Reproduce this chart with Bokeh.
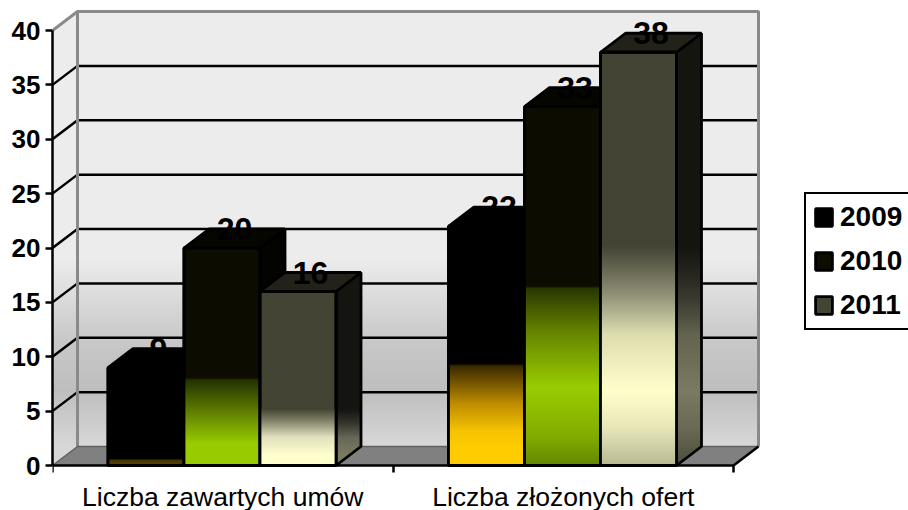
import numpy as np
from bokeh.plotting import figure
from bokeh.embed import file_html
from bokeh.resources import INLINE
from bokeh.models import FixedTicker, Legend, LegendItem, Range1d
from bokeh.core.properties import value

categories = ["Liczba zawartych umów", "Liczba złożonych ofert"]
series_names = ["2009", "2010", "2011"]
values_2009 = [9, 22]
values_2010 = [20, 33]
values_2011 = [16, 38]
series_values = [values_2009, values_2010, values_2011]
y_ticks = [0, 5, 10, 15, 20, 25, 30, 35, 40]

# styling
base_colors = [(0, 0, 0), (12, 12, 0), (68, 68, 52)]
stops = {
    (0, 0): [(0, (92, 70, 0)), (0.55, (70, 52, 0)), (0.6, (0, 0, 0))],
    (0, 1): [(0, (255, 204, 0)), (1.6, (255, 204, 0)), (3.2, (245, 195, 0)), (5.7, (190, 140, 0)), (9.2, (55, 40, 0)), (9.3, (0, 0, 0))],
    (1, 0): [(0, (153, 204, 0)), (2, (153, 204, 0)), (5, (95, 125, 0)), (7.9, (35, 50, 0)), (8.05, (12, 12, 0))],
    (1, 1): [(0, (100, 135, 0)), (2.6, (130, 170, 0)), (7.2, (153, 204, 0)), (12.4, (100, 130, 0)), (16.3, (40, 55, 0)), (16.5, (12, 12, 0))],
    (2, 0): [(0, (255, 255, 204)), (0.9, (255, 255, 204)), (2.6, (225, 225, 190)), (4.1, (130, 130, 105)), (5.2, (68, 68, 52))],
    (2, 1): [(0, (185, 185, 145)), (3.5, (230, 230, 185)), (6.9, (255, 255, 204)), (12.1, (220, 220, 175)), (15.4, (150, 150, 125)), (18.2, (100, 100, 80)), (20.2, (68, 68, 52))],
}
wall_stops = [(0, (215, 215, 215)), (1.84, (215, 215, 215)), (6.9, (190, 190, 190)), (11.5, (200, 200, 200)), (16.1, (222, 222, 222)), (19, (236, 236, 236)), (42, (236, 236, 236))]
floor_color = "#808080"
wall_line = "#8a8a8a"

W, H = 908, 510
ZERO_X, ZERO_Y = 52, 465
PX_X = (733 - 52) / 2
PX_Y = (465 - 30) / 40
DX = 25 / PX_X
DY = 19 / PX_Y
BAR_W = 76 / PX_X
BAR_START = 0.163
X_MAX = 2
Y_MAX = 40
STEP = 1 / PX_Y
FONT = "Liberation Sans"
EDGE = 2.8


def hexc(c):
    return "#%02x%02x%02x" % tuple(int(round(min(255, max(0, k)))) for k in c)


def grad(level, st):
    lv = [s[0] for s in st]
    return [np.interp(level, lv, [s[1][i] for s in st]) for i in range(3)]


def side_shade(c):
    k = 0.25 + 0.25 * (sum(c) / (3 * 255))
    return [x * k for x in c]


p = figure(width=W, height=H, output_backend="svg", toolbar_location=None,
           x_range=Range1d(0, (W - ZERO_X) / PX_X),
           y_range=Range1d(-(H - ZERO_Y) / PX_Y, ZERO_Y / PX_Y),
           min_border_left=ZERO_X, min_border_right=0, min_border_top=0, min_border_bottom=0,
           outline_line_color=None, background_fill_color="white", border_fill_color="white")
p.grid.visible = False


def para_slices(x0, v_top, st, shade=None, n_top=None):
    levels = np.arange(0, v_top + DY, STEP)
    l, r, b, t, c = [], [], [], [], []
    for L in levels:
        m = L + STEP / 2
        xl = x0 if m <= v_top else x0 + DX * (m - v_top) / DY
        xr = x0 + DX if m >= DY else x0 + DX * m / DY
        if n_top is not None and m > n_top:
            continue
        col = grad(m, st)
        if shade:
            col = shade(col)
        l.append(xl); r.append(xr); b.append(L); t.append(min(L + STEP * 2, v_top + DY)); c.append(hexc(col))
    return dict(left=l, right=r, bottom=b, top=t, color=c)


# ---- walls and floor ----
lv = np.arange(DY, Y_MAX + DY, STEP)
p.quad(left=DX, right=X_MAX + DX, bottom=lv, top=np.minimum(lv + STEP * 2, Y_MAX + DY),
       fill_color=[hexc(grad(m + STEP / 2, wall_stops)) for m in lv], line_color=None)
p.quad(line_color=None, fill_color="color", source=para_slices(0, Y_MAX, wall_stops))
p.patch([0, X_MAX, X_MAX + DX, DX], [0, 0, DY, DY], fill_color=floor_color, line_color=None)

for v in y_ticks[1:-1]:
    p.line([0, DX, X_MAX + DX], [v, v + DY, v + DY], line_color="black", line_width=2.5)
p.line([0, DX, X_MAX + DX, X_MAX + DX], [Y_MAX, Y_MAX + DY, Y_MAX + DY, DY], line_color=wall_line, line_width=3)
p.line([DX, DX], [DY, Y_MAX + DY], line_color=wall_line, line_width=3)
p.line([0, DX, X_MAX + DX], [0, DY, DY], line_color="#606060", line_width=1.5)
p.line([X_MAX, X_MAX + DX], [0, DY], line_color="black", line_width=2.5)

# ---- bars ----
legend_items = []
for s, vals in enumerate(series_values):
    base = base_colors[s]
    half = [x * 0.5 for x in base]
    lefts = [i + BAR_START + s * BAR_W for i in range(len(vals))]
    rights = [x + BAR_W for x in lefts]
    for i, v in enumerate(vals):
        xr = rights[i]
        p.patch([xr, xr + DX, xr + DX, xr], [0, DY, v + DY, v], fill_color=hexc(side_shade(base)), line_color=None)
        st = stops[(s, i)]
        p.quad(line_color=None, fill_color="color", source=para_slices(xr, v, st, side_shade, n_top=st[-1][0]))
        p.patch([xr, xr + DX, xr + DX, xr], [0, DY, v + DY, v], fill_color=None, line_color="black", line_width=EDGE)
        xl = lefts[i]
        p.patch([xl, xr, xr + DX, xl + DX], [v, v, v + DY, v + DY], fill_color=hexc(half), line_color="black", line_width=EDGE)
    r = p.quad(left=lefts, right=rights, bottom=[0, 0], top=vals, fill_color=hexc(base),
               line_color="black", line_width=EDGE)
    for i, v in enumerate(vals):
        st = stops[(s, i)]
        L = np.arange(0, st[-1][0], STEP)
        p.quad(left=lefts[i], right=rights[i], bottom=L, top=np.minimum(L + STEP * 2, st[-1][0]),
               fill_color=[hexc(grad(m + STEP / 2, st)) for m in L], line_color=None)
    p.quad(left=lefts, right=rights, bottom=[0, 0], top=vals, fill_color=None, line_color="black", line_width=EDGE)
    legend_items.append(LegendItem(label=series_names[s], renderers=[r]))

# ---- value labels ----
for s, vals in enumerate(series_values):
    xs = [i + BAR_START + s * BAR_W + BAR_W / 2 + DX / 2 for i in range(len(vals))]
    ys = [v + DY for v in vals]
    p.text(xs, ys, text=[str(v) for v in vals], text_font=value(FONT), text_font_style="bold",
           text_font_size="32px", text_color="black", text_align="center", text_baseline="middle")

# ---- axes ----
ya = p.yaxis[0]
ya.ticker = FixedTicker(ticks=y_ticks)
ya.bounds = (0, Y_MAX)
ya.axis_line_color = "black"
ya.axis_line_width = 2.5
ya.major_tick_line_color = "black"
ya.major_tick_line_width = 2.5
ya.major_tick_in = 0
ya.major_tick_out = 7
ya.minor_tick_line_color = None
ya.major_label_standoff = 5
ya.major_label_text_font = FONT
ya.major_label_text_font_style = "bold"
ya.major_label_text_font_size = "26px"
ya.major_label_text_color = "black"

xa = p.xaxis[0]
xa.fixed_location = 0
xa.ticker = FixedTicker(ticks=[0.5, 1.5], minor_ticks=[0, 1, 2])
xa.bounds = (0, X_MAX)
xa.major_label_overrides = {0.5: categories[0], 1.5: categories[1]}
xa.axis_line_color = "black"
xa.axis_line_width = 2.5
xa.major_tick_in = 0
xa.major_tick_out = 0
xa.major_tick_line_color = None
xa.minor_tick_in = 0
xa.minor_tick_out = 7
xa.minor_tick_line_color = "black"
xa.minor_tick_line_width = 2.5
xa.major_label_standoff = 9
xa.major_label_text_font = FONT
xa.major_label_text_font_style = "normal"
xa.major_label_text_font_size = "26.5px"
xa.major_label_text_color = "black"

legend = Legend(items=legend_items, location=(804 - 52, H - 330),
                orientation="vertical", border_line_color="black", border_line_alpha=1, border_line_width=2.5,
                background_fill_color="white", background_fill_alpha=1,
                padding=7, margin=0, spacing=12, glyph_width=21, glyph_height=22, label_standoff=6,
                label_width=90, label_height=22, label_text_font=FONT, label_text_font_style="bold",
                label_text_font_size="28px", label_text_color="black", label_text_baseline="middle")
p.add_layout(legend, "center")

open("out.html", "w").write(file_html(p, INLINE))
